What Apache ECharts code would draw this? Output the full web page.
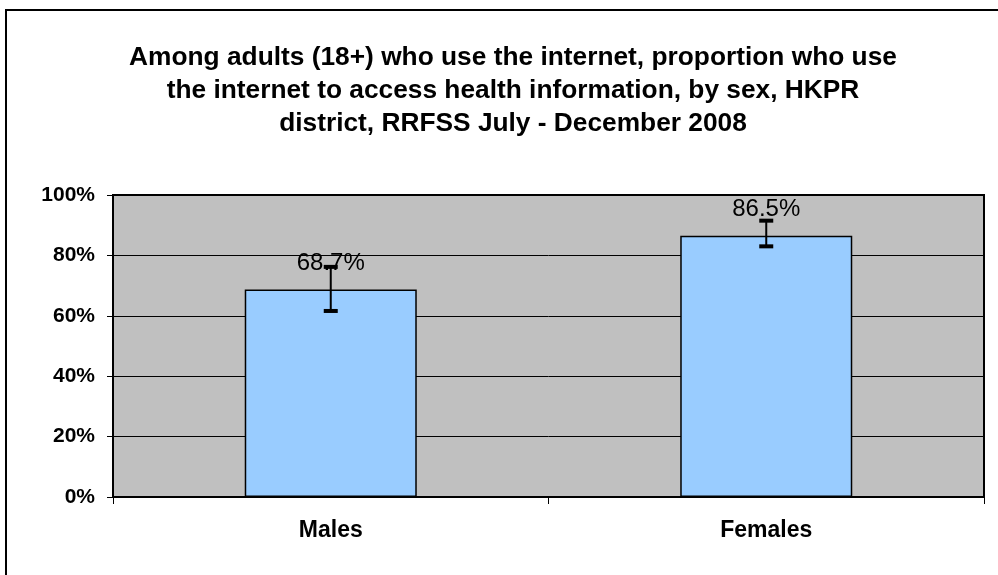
<!DOCTYPE html>
<html><head><meta charset="utf-8">
<script src="https://cdn.jsdelivr.net/npm/echarts@6/dist/echarts.min.js"></script>
<style>html,body{margin:0;padding:0;background:#fff}#c{width:998px;height:575px}</style>
</head><body><div id="c"></div>
<script>
var titleLines = ['Among adults (18+) who use the internet, proportion who use','the internet to access health information, by sex, HKPR','district, RRFSS July - December 2008'];
var categories = ['Males','Females'];
var values = [68.7, 86.5];
var errLow = [61.6, 83.0];
var errHigh = [76.2, 91.5];
var yTicks = [0,20,40,60,80,100];

var chart = echarts.init(document.getElementById('c'));
var font = 'Liberation Sans, Arial, sans-serif';
chart.setOption({
  animation:false,
  backgroundColor:'#fff',
  graphic:[{type:'rect',shape:{x:6,y:10,width:1100,height:700},style:{fill:'none',stroke:'#000',lineWidth:2},z:-10}],
  title:{text:titleLines.join('\n'),left:508,textAlign:'center',top:36,textStyle:{fontFamily:font,fontSize:26.3,fontWeight:'bold',color:'#000',lineHeight:33}},
  grid:{left:113,right:14,top:195,bottom:78,show:true,backgroundColor:'#C0C0C0',borderColor:'#000',borderWidth:2},
  xAxis:{type:'category',data:categories,
    axisLine:{lineStyle:{color:'#000',width:2}},
    axisTick:{show:true,length:7,lineStyle:{color:'#000',width:1}},
    axisLabel:{fontFamily:font,fontSize:23,fontWeight:'bold',color:'#000',margin:22}},
  yAxis:{type:'value',min:0,max:100,interval:20,
    axisLine:{show:true,lineStyle:{color:'#000',width:2}},
    axisTick:{show:true,length:6,lineStyle:{color:'#000'}},
    splitLine:{lineStyle:{color:'#000',width:1}},
    axisLabel:{fontFamily:font,fontSize:21,fontWeight:'bold',color:'#000',margin:18,
      formatter:function(v){return yTicks.indexOf(v)>=0? v+'%':'';}}},
  series:[
    {type:'bar',data:values,barWidth:'39.5%',
     itemStyle:{color:'#99CCFF',borderColor:'#000',borderWidth:1.5},
     label:{show:true,position:'top',distance:14,fontFamily:font,fontSize:24,color:'#000',
       formatter:function(p){return p.value.toFixed(1)+'%';}},z:2},
    {type:'custom',z:3,
     data:categories.map(function(c,i){return [i,errLow[i],errHigh[i]];}),
     renderItem:function(params,api){
       var lo=api.coord([api.value(0),api.value(1)]);
       var hi=api.coord([api.value(0),api.value(2)]);
       var x=lo[0],hw=7;
       var st={stroke:'#000',lineWidth:2};
       return {type:'group',children:[
         {type:'line',shape:{x1:x,y1:lo[1],x2:x,y2:hi[1]},style:st},
         {type:'line',shape:{x1:x-hw,y1:lo[1],x2:x+hw,y2:lo[1]},style:{stroke:'#000',lineWidth:4}},
         {type:'line',shape:{x1:x-hw,y1:hi[1],x2:x+hw,y2:hi[1]},style:{stroke:'#000',lineWidth:4}}
       ]};
     }}
  ]
});
</script></body></html>
